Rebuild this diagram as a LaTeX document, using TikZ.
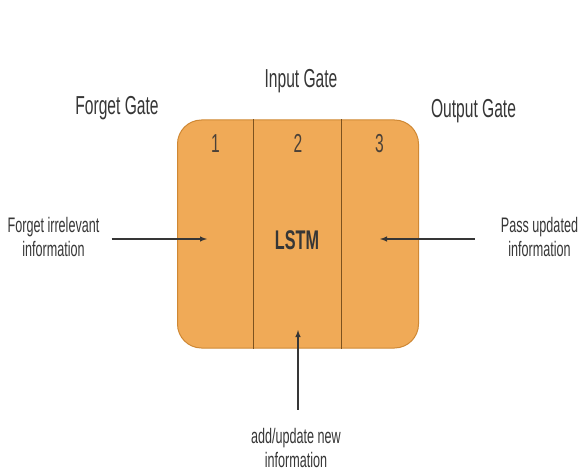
\documentclass[tikz,border=0pt]{standalone}
\usepackage{fontspec}
\setmainfont{Liberation Sans}[FakeStretch=0.6]
\usetikzlibrary{arrows,positioning,calc}
\definecolor{cellfill}{HTML}{F0AA57}
\definecolor{celledge}{HTML}{CF8834}
\definecolor{ink}{HTML}{363636}
\tikzset{
  cell/.style    = {draw=celledge, fill=cellfill, line width=1pt, rounded corners=24pt,
                    minimum width=241pt, minimum height=228pt},
  divider/.style = {draw=celledge!60!black, line width=0.8pt},
  gate/.style    = {font=\fontsize{26}{28}\selectfont, text=ink, inner sep=0pt, anchor=base},
  num/.style     = {gate, text=ink!85!brown},
  info/.style    = {font=\fontsize{21}{24}\selectfont, text=ink, align=center, inner sep=0pt},
  arr/.style     = {->, draw=ink, line width=1.4pt}
}

\begin{document}
\begin{tikzpicture}[x=1pt, y=-1pt, >=latex]
\useasboundingbox (0,0) rectangle (580,473);
\clip (0,0) rectangle (580,473);

% the cell with its three gates
\node[cell] (lstm) at (298,234) {};
\coordinate (d1) at (253,0);
\coordinate (d2) at (341,0);
\draw[divider] (lstm.north -| d1) -- (lstm.south -| d1);
\draw[divider] (lstm.north -| d2) -- (lstm.south -| d2);
\node[font=\fontsize{27}{29}\selectfont\bfseries, text=ink, anchor=base] (name) at (297,249) {LSTM};

% gate numbers
\foreach \x/\n in {215.5/1, 298/2, 379.5/3}
  \node[num] (n\n) at (\x,153) {\n};

% gate names
\node[gate] (forgetgate) at (117,115) {Forget Gate};
\node[gate] (inputgate)  at (301,88)  {Input Gate};
\node[gate] (outputgate) at (473.5,118) {Output Gate};

% what goes in and out
\node[info] (forget) at (53.5,237) {Forget irrelevant\\information};
\node[info] (pass)   at (539.5,237) {Pass updated\\information};
\node[info] (add)    at (296,447.5) {add/update new\\information};

\coordinate (fin) at (207,239);
\coordinate (pin) at (380,239);
\coordinate (ain) at (298,330);

\draw[arr, shorten <=12pt] (forget.east |- fin) -- (fin);
\draw[arr, shorten <=26pt] (pass.west |- pin) -- (pin);
\draw[arr, shorten <=18pt] (add.north -| ain) -- (ain);
\end{tikzpicture}
\end{document}
